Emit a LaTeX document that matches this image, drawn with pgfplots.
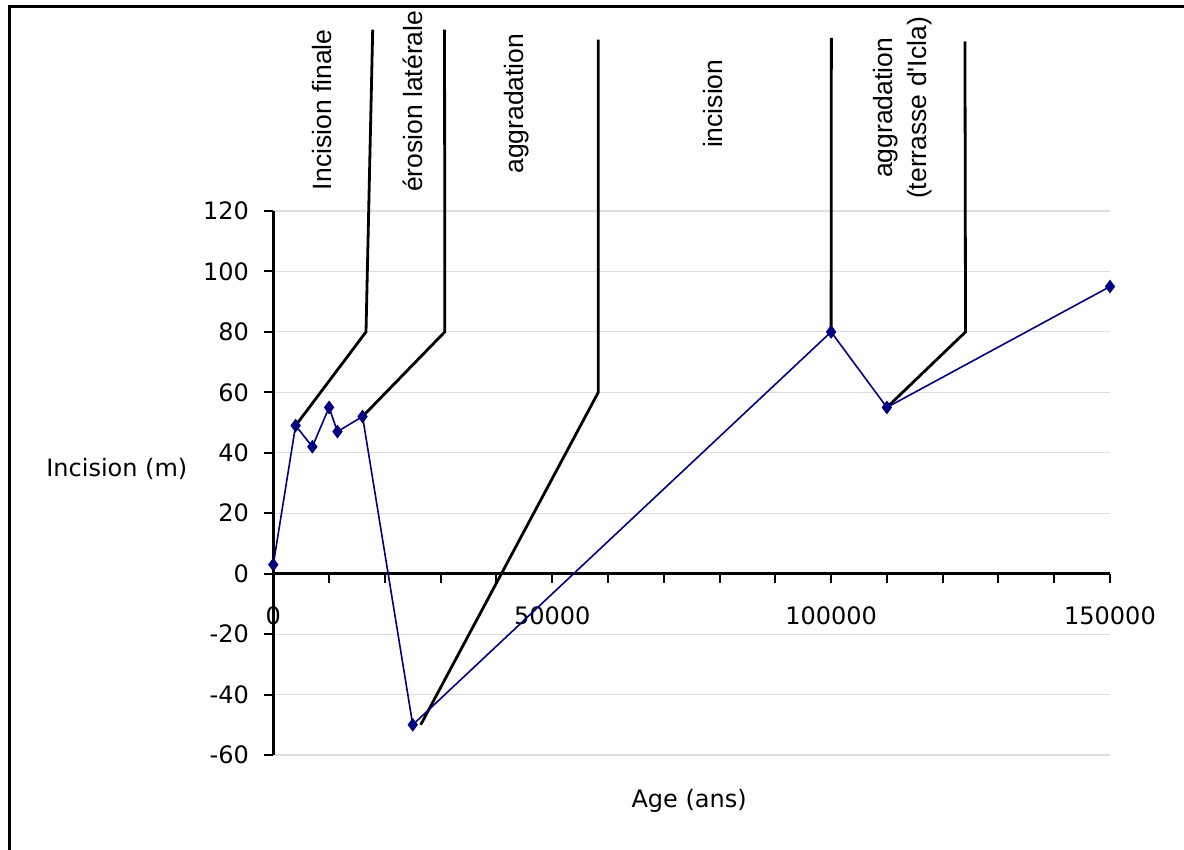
\documentclass[border=0pt]{standalone}
\usepackage{pgfplots}
\pgfplotsset{compat=1.18}
\usepackage{fontspec}
\setmainfont{DejaVu Sans}
\newfontfamily\annfont{Liberation Sans}
\definecolor{navyline}{RGB}{0,0,128}
\definecolor{gridgray}{RGB}{222,222,222}

\begin{document}
\begin{tikzpicture}
\useasboundingbox (0,0) rectangle (592pt,-425pt);
\draw[line width=1.5pt, black] (4.5pt,-430pt) -- (4.5pt,-3.5pt) -- (600pt,-3.5pt);
\begin{axis}[
  at={(136.65pt,-377.5pt)}, anchor=south west,
  scale only axis, width=418.35pt, height=272pt,
  xmin=0, xmax=150000, ymin=-60, ymax=120,
  axis x line*=middle, axis y line*=left,
  hide obscured x ticks=false, hide obscured y ticks=false,
  axis line style={line width=1.5pt, black},
  xtick={0,50000,100000,150000},
  xticklabels={0,50000,100000,150000},
  minor xtick={10000,20000,...,140000},
  ytick={-60,-40,...,120},
  yticklabels={-60,-40,-20,0,20,40,60,80,100,120},
  scaled x ticks=false, scaled y ticks=false,
  tick align=outside, major tick length=4.5pt, minor tick length=4.5pt,
  tick style={line width=1pt, black},
  ymajorgrids, grid style={gridgray, line width=0.6pt},
  clip=false,
  font=\fontsize{12}{14}\selectfont,
  xticklabel style={anchor=center, inner sep=0pt, yshift=-16.5pt},
  yticklabel style={anchor=east, inner sep=0pt, xshift=-7.5pt},
  xlabel={Age (ans)}, ylabel={Incision (m)},
  every axis x label/.style={at={(axis description cs:0.497,-0.085)}, anchor=center},
  every axis y label/.style={at={(axis description cs:-0.187,0.525)}, anchor=center},
]
% annotation lines
\addplot[black, line width=1.4pt, no marks] coordinates {(4000,49) (16620,80) (17820,180)};
\addplot[black, line width=1.4pt, no marks] coordinates {(16000,52) (30750,80) (30700,180)};
\addplot[black, line width=1.4pt, no marks] coordinates {(26430,-50) (58260,60) (58260,176.7)};
\addplot[black, line width=1.4pt, no marks] coordinates {(100000,80) (100050,177.3)};
\addplot[black, line width=1.4pt, no marks] coordinates {(110000,55) (124100,80) (124000,176.1)};
% data
\addplot[navyline, line width=0.8pt, mark=diamond*, mark size=2.8pt,
  mark options={fill=navyline, draw=navyline}] coordinates {
  (0,3) (4000,49) (7000,42) (10000,55) (11500,47) (16000,52)
  (25000,-50) (100000,80) (110000,55) (150000,95)};
% labels
\begin{scope}[every node/.style={rotate=90, font=\annfont\fontsize{13.25}{17}\selectfont, inner sep=0pt}]
\node at (axis cs:8820,153.5) {Incision finale};
\node at (axis cs:25100,156.3) {érosion latérale};
\node at (axis cs:43600,155.5) {aggradation};
\node at (axis cs:78920,155.5) {incision};
\node[align=center] at (axis cs:112800,154.1) {aggradation\\(terrasse d\textquotesingle Icla)};
\end{scope}
\end{axis}
\end{tikzpicture}
\end{document}
